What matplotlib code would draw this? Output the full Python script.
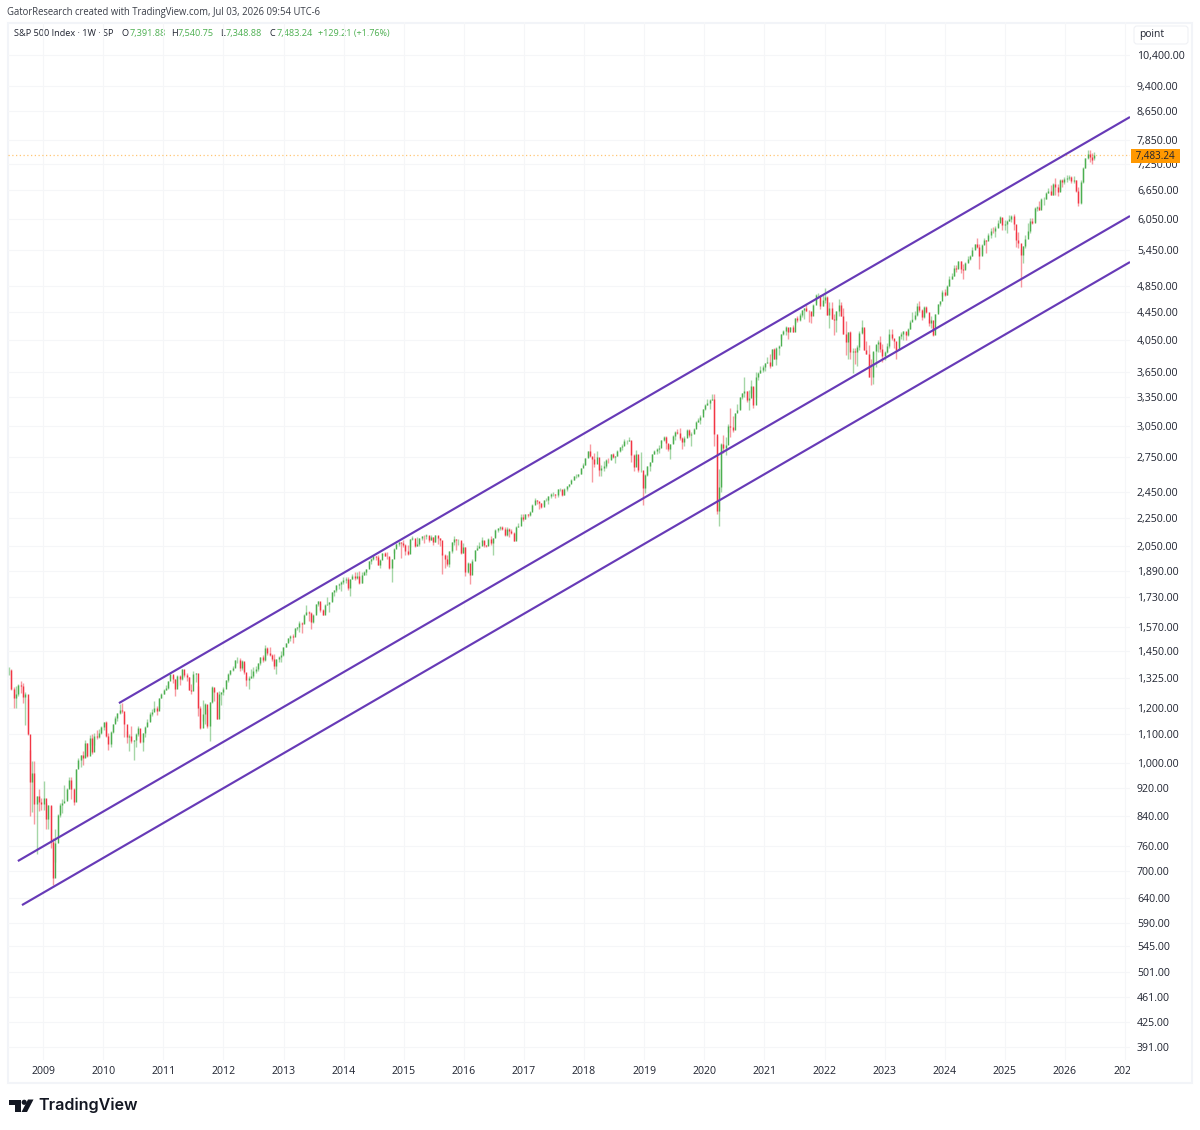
import datetime as dt

import matplotlib
matplotlib.use("Agg")
import matplotlib.pyplot as plt
import numpy as np
import pandas as pd
from matplotlib.patches import Circle, FancyBboxPatch, Polygon, Rectangle
from matplotlib.transforms import Bbox

plt.rcParams["font.family"] = ["Open Sans", "DejaVu Sans"]

# ------------------------------------------------------------
# Data: S&P 500, two-week bars stamped on Monday, one row per year
# ------------------------------------------------------------
last_bar_date = "2026-06-29"
last_bar_open = 7391.88
last_bar_change = 129.21
last_bar_change_pct = 1.76

bar_close = [
    1360, 1278, 1239, 1257, 1296, 1292, 1242, 1255, 1099, 940, 968, 873, 896, 879, 872,
    890, 831, 869, 770, 683, 768, 842, 869, 877, 882, 919, 946, 918, 879, 979, 1010, 1026, 1016, 1068, 1025, 1087, 1036, 1093, 1091, 1106, 1126,
    1145, 1092, 1066, 1109, 1139, 1160, 1178, 1192, 1187, 1136, 1089, 1092, 1076, 1078, 1102, 1122, 1072, 1105, 1125, 1146, 1176, 1183, 1199, 1189, 1240, 1257,
    1271, 1283, 1311, 1343, 1321, 1279, 1332, 1319, 1363, 1338, 1331, 1271, 1268, 1344, 1345, 1199, 1124, 1174, 1216, 1131, 1224, 1285, 1263, 1158, 1255, 1265,
    1278, 1315, 1344, 1361, 1370, 1404, 1408, 1370, 1403, 1353, 1318, 1325, 1335, 1355, 1363, 1390, 1418, 1407, 1465, 1441, 1429, 1411, 1380, 1409, 1418, 1430,
    1466, 1486, 1513, 1520, 1518, 1561, 1569, 1589, 1582, 1634, 1650, 1643, 1593, 1631, 1693, 1710, 1656, 1633, 1688, 1692, 1703, 1760, 1771, 1804, 1805, 1818,
    1831, 1838, 1782, 1839, 1859, 1841, 1857, 1815, 1863, 1878, 1900, 1949, 1962, 1985, 1978, 1925, 1955, 2003, 1985, 1982, 1906, 1965, 2032, 2063, 2075, 2070,
    2058, 2019, 1995, 2097, 2105, 2053, 2061, 2102, 2117, 2116, 2126, 2092, 2110, 2077, 2127, 2104, 2091, 1989, 1961, 1931, 2014, 2075, 2099, 2089, 2091, 2005,
    2044, 1880, 1940, 1865, 1948, 2022, 2035, 2048, 2092, 2057, 2052, 2099, 2071, 2103, 2162, 2174, 2184, 2169, 2128, 2165, 2153, 2141, 2085, 2182, 2192, 2258, 2239,
    2276, 2271, 2297, 2351, 2383, 2378, 2363, 2329, 2384, 2390, 2415, 2432, 2438, 2425, 2472, 2476, 2425, 2476, 2500, 2519, 2553, 2581, 2582, 2602, 2651, 2683,
    2743, 2810, 2762, 2732, 2691, 2752, 2640, 2656, 2670, 2727, 2721, 2779, 2755, 2759, 2802, 2840, 2850, 2901, 2904, 2914, 2767, 2658, 2781, 2632, 2633, 2485,
    2596, 2670, 2706, 2775, 2803, 2822, 2834, 2907, 2939, 2881, 2826, 2873, 2950, 2990, 2976, 2932, 2888, 2926, 3007, 2961, 2970, 3022, 3093, 3110, 3145, 3221,
    3265, 3295, 3327, 3338, 2972, 2305, 2489, 2875, 2831, 2864, 3044, 3041, 3009, 3185, 3215, 3351, 3397, 3427, 3319, 3348, 3484, 3270, 3585, 3638, 3663, 3703,
    3756, 3768, 3714, 3934, 3811, 3943, 3974, 4128, 4180, 4232, 4155, 4229, 4166, 4352, 4327, 4395, 4468, 4509, 4458, 4455, 4391, 4544, 4697, 4697, 4538, 4620,
    4677, 4398, 4500, 4349, 4329, 4463, 4545, 4392, 4131, 4023, 4158, 3900, 3911, 3899, 3961, 4145, 4228, 3924, 3873, 3585, 3583, 3901, 3992, 4026, 3934, 3844,
    3895, 3972, 4136, 4079, 4045, 3917, 4109, 4137, 4169, 4124, 4205, 4298, 4348, 4399, 4536, 4478, 4369, 4515, 4450, 4288, 4327, 4117, 4415, 4559, 4604, 4754,
    4697, 4840, 4959, 5005, 5137, 5117, 5254, 5123, 5100, 5222, 5305, 5347, 5465, 5567, 5505, 5346, 5554, 5648, 5627, 5738, 5815, 5808, 5870, 5970, 6090, 5930,
    5942, 5997, 6040, 6114, 5955, 5639, 5580, 5363, 5525, 5660, 5803, 6000, 5968, 6279, 6297, 6238, 6450, 6460, 6584, 6643, 6553, 6791, 6728, 6603, 6870, 6835,
    6890, 6930, 6940, 6860, 6880, 6640, 6370, 6830, 7160, 7390, 7500, 7420, 7354, 7483.24,
]

bar_high = [
    1372, 1364, 1284, 1292, 1297, 1313, 1303, 1265, 1234, 1044, 1005, 1007, 896, 919, 891,
    943, 877, 870, 868, 780, 804, 845, 875, 888, 930, 920, 956, 956, 920, 979, 1018, 1028, 1039, 1080, 1069, 1096, 1101, 1106, 1114, 1119, 1130,
    1145, 1150, 1103, 1112, 1139, 1170, 1181, 1214, 1220, 1174, 1110, 1099, 1131, 1078, 1103, 1129, 1100, 1105, 1131, 1158, 1182, 1196, 1227, 1206, 1240, 1259,
    1278, 1296, 1311, 1344, 1332, 1320, 1338, 1337, 1364, 1346, 1345, 1330, 1298, 1356, 1347, 1292, 1208, 1230, 1220, 1195, 1224, 1292, 1277, 1226, 1268, 1266,
    1284, 1315, 1345, 1362, 1378, 1405, 1419, 1416, 1407, 1393, 1334, 1335, 1363, 1375, 1380, 1394, 1419, 1427, 1475, 1470, 1470, 1434, 1433, 1409, 1423, 1448,
    1466, 1486, 1514, 1525, 1530, 1563, 1570, 1597, 1593, 1635, 1687, 1655, 1650, 1635, 1693, 1710, 1700, 1665, 1692, 1730, 1704, 1760, 1775, 1804, 1813, 1823,
    1849, 1850, 1850, 1840, 1867, 1883, 1883, 1890, 1884, 1890, 1900, 1950, 1968, 1985, 1985, 1990, 1965, 2005, 2007, 2010, 1977, 1966, 2034, 2071, 2079, 2078,
    2093, 2065, 2058, 2097, 2119, 2080, 2115, 2103, 2120, 2125, 2134, 2118, 2127, 2112, 2129, 2115, 2103, 2000, 1998, 1990, 2016, 2080, 2116, 2097, 2100, 2077,
    2072, 2040, 1945, 1880, 1962, 2022, 2056, 2075, 2112, 2084, 2060, 2105, 2120, 2103, 2170, 2178, 2187, 2193, 2185, 2180, 2175, 2170, 2150, 2190, 2214, 2278, 2278,
    2282, 2280, 2300, 2352, 2400, 2390, 2370, 2362, 2390, 2402, 2418, 2446, 2453, 2437, 2477, 2480, 2470, 2480, 2500, 2520, 2555, 2582, 2597, 2604, 2652, 2694,
    2743, 2810, 2872, 2754, 2790, 2802, 2700, 2680, 2718, 2732, 2742, 2780, 2790, 2765, 2816, 2848, 2870, 2916, 2915, 2940, 2900, 2775, 2815, 2745, 2800, 2600,
    2600, 2675, 2710, 2776, 2815, 2830, 2860, 2910, 2949, 2950, 2860, 2875, 2964, 2995, 3018, 3027, 2940, 2945, 3020, 3022, 2985, 3027, 3098, 3127, 3157, 3226,
    3282, 3338, 3338, 3394, 3393, 2950, 2641, 2880, 2955, 2940, 3068, 3233, 3155, 3186, 3280, 3352, 3399, 3588, 3428, 3430, 3550, 3465, 3645, 3650, 3712, 3726,
    3760, 3826, 3870, 3937, 3950, 3960, 3980, 4130, 4193, 4238, 4190, 4234, 4260, 4355, 4393, 4430, 4478, 4510, 4545, 4480, 4430, 4560, 4718, 4740, 4660, 4700,
    4818, 4680, 4595, 4590, 4420, 4465, 4637, 4593, 4500, 4308, 4160, 4180, 3950, 3950, 3985, 4168, 4325, 4203, 4040, 3980, 3810, 3890, 3980, 4050, 4100, 4000,
    3906, 4015, 4195, 4195, 4050, 3965, 4110, 4165, 4170, 4154, 4212, 4322, 4448, 4458, 4578, 4607, 4490, 4541, 4541, 4340, 4385, 4260, 4418, 4560, 4610, 4778,
    4800, 4865, 5000, 5049, 5190, 5190, 5265, 5265, 5210, 5240, 5342, 5375, 5506, 5570, 5670, 5565, 5560, 5670, 5635, 5770, 5860, 5880, 5915, 6020, 6100, 6060,
    6020, 6020, 6128, 6127, 6147, 5790, 5785, 5482, 5530, 5730, 5970, 6060, 6060, 6285, 6315, 6425, 6480, 6510, 6600, 6700, 6764, 6810, 6920, 6780, 6895, 6900,
    6950, 6990, 7000, 6980, 6960, 6880, 6720, 6880, 7180, 7400, 7600, 7590, 7520, 7540.75,
]

bar_low = [
    1336, 1272, 1200, 1201, 1248, 1262, 1218, 1134, 1098, 840, 849, 818, 741, 852, 857,
    857, 804, 805, 754, 667, 721, 783, 836, 847, 878, 888, 926, 888, 869, 917, 987, 986, 992, 1020, 1020, 1062, 1029, 1060, 1083, 1086, 1100,
    1115, 1090, 1044, 1056, 1105, 1140, 1150, 1175, 1181, 1090, 1067, 1042, 1067, 1011, 1056, 1095, 1070, 1040, 1090, 1131, 1150, 1170, 1190, 1173, 1200, 1240,
    1257, 1271, 1276, 1326, 1302, 1249, 1291, 1295, 1316, 1329, 1312, 1271, 1258, 1300, 1306, 1168, 1120, 1150, 1136, 1121, 1075, 1220, 1226, 1158, 1230, 1210,
    1254, 1290, 1306, 1340, 1354, 1372, 1392, 1357, 1358, 1343, 1291, 1278, 1324, 1326, 1346, 1354, 1385, 1397, 1400, 1430, 1425, 1403, 1365, 1343, 1398, 1398,
    1426, 1470, 1490, 1496, 1485, 1530, 1550, 1540, 1536, 1590, 1635, 1598, 1560, 1590, 1645, 1680, 1650, 1630, 1650, 1690, 1646, 1710, 1740, 1760, 1780, 1767,
    1810, 1815, 1770, 1738, 1840, 1834, 1840, 1805, 1814, 1860, 1862, 1910, 1930, 1960, 1955, 1925, 1905, 1990, 1980, 1965, 1900, 1820, 2000, 2040, 2050, 1972,
    2040, 1990, 1990, 2040, 2090, 2040, 2050, 2050, 2090, 2067, 2100, 2080, 2090, 2056, 2075, 2063, 2052, 1867, 1903, 1920, 1915, 2000, 2060, 2020, 2060, 1993,
    2000, 1857, 1872, 1810, 1891, 1970, 2020, 2033, 2080, 2040, 2040, 2055, 2060, 1992, 2110, 2150, 2160, 2160, 2119, 2120, 2110, 2130, 2083, 2100, 2180, 2240, 2230,
    2245, 2255, 2267, 2310, 2360, 2355, 2320, 2322, 2345, 2375, 2353, 2405, 2420, 2405, 2410, 2455, 2418, 2430, 2460, 2490, 2530, 2550, 2565, 2577, 2605, 2670,
    2683, 2750, 2750, 2532, 2665, 2740, 2585, 2585, 2630, 2650, 2700, 2730, 2740, 2700, 2765, 2800, 2820, 2860, 2875, 2900, 2710, 2627, 2720, 2620, 2621, 2346,
    2440, 2580, 2630, 2710, 2775, 2780, 2785, 2880, 2905, 2825, 2805, 2730, 2880, 2910, 2970, 2914, 2822, 2855, 2960, 2940, 2855, 2980, 3050, 3090, 3070, 3180,
    3215, 3265, 3220, 3325, 2855, 2281, 2192, 2450, 2790, 2767, 2990, 2935, 2990, 3130, 3200, 3230, 3330, 3350, 3300, 3210, 3400, 3233, 3350, 3550, 3630, 3640,
    3660, 3750, 3695, 3850, 3805, 3725, 3850, 4060, 4120, 4125, 4060, 4190, 4165, 4270, 4300, 4320, 4370, 4350, 4460, 4300, 4280, 4430, 4580, 4650, 4490, 4530,
    4580, 4395, 4222, 4350, 4115, 4157, 4390, 4380, 4130, 3858, 3810, 3810, 3636, 3740, 3721, 3915, 4130, 3925, 3870, 3585, 3490, 3500, 3700, 3900, 3900, 3764,
    3794, 3885, 3950, 4047, 3950, 3810, 3970, 4070, 4050, 4050, 4100, 4200, 4340, 4330, 4390, 4440, 4335, 4355, 4430, 4240, 4220, 4104, 4300, 4450, 4540, 4690,
    4680, 4700, 4840, 4950, 5000, 5080, 5146, 5050, 4950, 5120, 5250, 5280, 5350, 5470, 5490, 5120, 5380, 5560, 5400, 5650, 5670, 5780, 5700, 5880, 6020, 5830,
    5830, 5775, 6000, 5990, 5837, 5505, 5500, 4835, 5225, 5500, 5730, 5770, 5950, 5990, 6200, 6230, 6300, 6340, 6460, 6580, 6540, 6550, 6550, 6520, 6640, 6720,
    6780, 6830, 6880, 6800, 6800, 6600, 6316, 6350, 6820, 7150, 7370, 7290, 7260, 7348.88,
]

# Trend channel, start and end of each line
channel_dates = [
    ("2010-04-07", "2027-01-31"),
    ("2008-08-01", "2027-01-31"),
    ("2008-08-26", "2027-01-31"),
]
channel_prices = [(1219, 8472), (723, 6106), (625, 5244)]

price_ticks = [
    10400, 9400, 8650, 7850, 7250, 6650, 6050, 5450, 4850, 4450, 4050, 3650, 3350,
    3050, 2750, 2450, 2250, 2050, 1890, 1730, 1570, 1450, 1325, 1200, 1100, 1000,
    920, 840, 760, 700, 640, 590, 545, 501, 461, 425, 391,
]
year_ticks = list(range(2009, 2028))

UP = "#4caf50"
DOWN = "#f23645"
GRID = "#f5f6f8"
FRAME = "#f2f4f8"
TEXT = "#1f2330"
PURPLE = "#673ab7"
ORANGE = "#ff9800"

# ------------------------------------------------------------
# Price axes, log scale
# ------------------------------------------------------------
fig = plt.figure(figsize=(12, 11.3), dpi=100, facecolor="white")
ax = fig.add_axes([8 / 1200, 70 / 1130, 1122 / 1200, 1038 / 1130], zorder=2)
ax.set_facecolor("none")

dates = pd.date_range(end=last_bar_date, periods=len(bar_close), freq="14D")
close = np.array(bar_close, dtype=float)
high = np.array(bar_high, dtype=float)
low = np.array(bar_low, dtype=float)
open_ = np.r_[close[0], close[:-1]]
open_[-1] = last_bar_open
is_up = close >= open_

ax.set_yscale("log")
ax.set_ylim(374.4, 11600)
ax.set_xlim(dt.datetime(2008, 6, 2), dt.datetime(2027, 1, 31))

ax.set_yticks(price_ticks, [f"{p:,.2f}" for p in price_ticks])
ax.minorticks_off()
ax.yaxis.tick_right()
ax.set_xticks([dt.datetime(y, 1, 1) for y in year_ticks], [str(y) for y in year_ticks])
ax.tick_params(axis="both", length=0, labelsize=7.6, labelcolor=TEXT)
ax.tick_params(axis="y", pad=5)
ax.tick_params(axis="x", pad=4.5)
ax.grid(True, color=GRID, linewidth=0.8)
ax.set_axisbelow(True)
for spine in ax.spines.values():
    spine.set_visible(False)

# the last year label runs past the plot edge and gets cut there
clip_px = Bbox.from_extents(0, 0, 1130, 1130)
for label in ax.get_xticklabels():
    label.set_clip_box(clip_px)
    label.set_clip_on(True)

# ------------------------------------------------------------
# Candles: wick plus body, each two weeks wide
# ------------------------------------------------------------
for mask, color in ((is_up, UP), (~is_up, DOWN)):
    ax.vlines(dates[mask], low[mask], high[mask], color=color, linewidth=1.0, alpha=0.5, zorder=3)
    ax.vlines(dates[mask], np.minimum(open_, close)[mask], np.maximum(open_, close)[mask],
              color=color, linewidth=1.0, zorder=3.1)

# channel lines
for (d0, d1), (p0, p1) in zip(channel_dates, channel_prices):
    ax.plot(pd.to_datetime([d0, d1]), [p0, p1], color=PURPLE, linewidth=1.55, zorder=4,
            solid_capstyle="butt")

# last price line and tag
ax.axhline(close[-1], color=ORANGE, linestyle=(0, (1, 2)), linewidth=0.9, alpha=0.55, zorder=2.5)
ax.annotate(f" {close[-1]:,.2f} ", xy=(1, close[-1]), xycoords=("axes fraction", "data"),
            xytext=(2.3, 0), textcoords="offset points", va="center_baseline", ha="left",
            fontsize=7.1, color=TEXT, annotation_clip=False, zorder=10,
            bbox=dict(boxstyle="square,pad=0.2", facecolor=ORANGE, edgecolor="none"))

# ------------------------------------------------------------
# Page furniture, in pixel coordinates
# ------------------------------------------------------------
page = fig.add_axes([0, 0, 1, 1], zorder=1)
page.set_xlim(0, 1200)
page.set_ylim(1130, 0)
page.axis("off")

page.add_patch(Rectangle((7.5, 22.5), 1184, 1060, facecolor="none", edgecolor=FRAME, linewidth=1.5))
page.add_patch(FancyBboxPatch((1134, 26), 54, 18, boxstyle="round,pad=0,rounding_size=3",
                              facecolor="white", edgecolor="#f0f1f5", linewidth=0.8))
page.text(1139, 35, "point", fontsize=7.4, color=TEXT, va="center")

page.text(7, 12, "GatorResearch created with TradingView.com, Jul 03, 2026 09:54 UTC-6",
          fontsize=6.85, color="#3a3e48", va="center")

page.text(14, 33.5, "S&P 500 Index · 1W · SP", fontsize=6.6, color=TEXT, va="center")
ohlc_labels = ["O", "H", "L", "C"]
ohlc_values = [open_[-1], high[-1], low[-1], close[-1]]
ohlc_x = [122, 171, 220, 269]
value_x = [130, 178, 226, 277]
for name, value, x0, x1 in zip(ohlc_labels, ohlc_values, ohlc_x, value_x):
    page.text(x0, 33.5, name, fontsize=6.6, color=TEXT, va="center")
    page.text(x1, 33.5, f"{value:,.2f}", fontsize=6.6, color=UP, va="center")
page.text(318, 33.5, f"+{last_bar_change:.2f} (+{last_bar_change_pct:.2f}%)",
          fontsize=6.5, color=UP, va="center")

# TradingView mark and wordmark
page.add_patch(Polygon([(9.3, 1099.5), (20.7, 1099.5), (20.7, 1112), (14.5, 1112), (14.5, 1105), (9.3, 1105)],
                       facecolor="#131722", edgecolor="none"))
page.add_patch(Circle((24.2, 1102.3), 2.6, facecolor="#131722", edgecolor="none"))
page.add_patch(Polygon([(28, 1099.5), (33.5, 1099.5), (27, 1112), (21.5, 1112)],
                       facecolor="#131722", edgecolor="none"))
page.text(38, 1105.5, "TradingView", family="Inter", fontsize=11.6, weight="semibold",
          color="#131722", va="center")

fig.savefig("out.png", dpi=100)
plt.close(fig)
